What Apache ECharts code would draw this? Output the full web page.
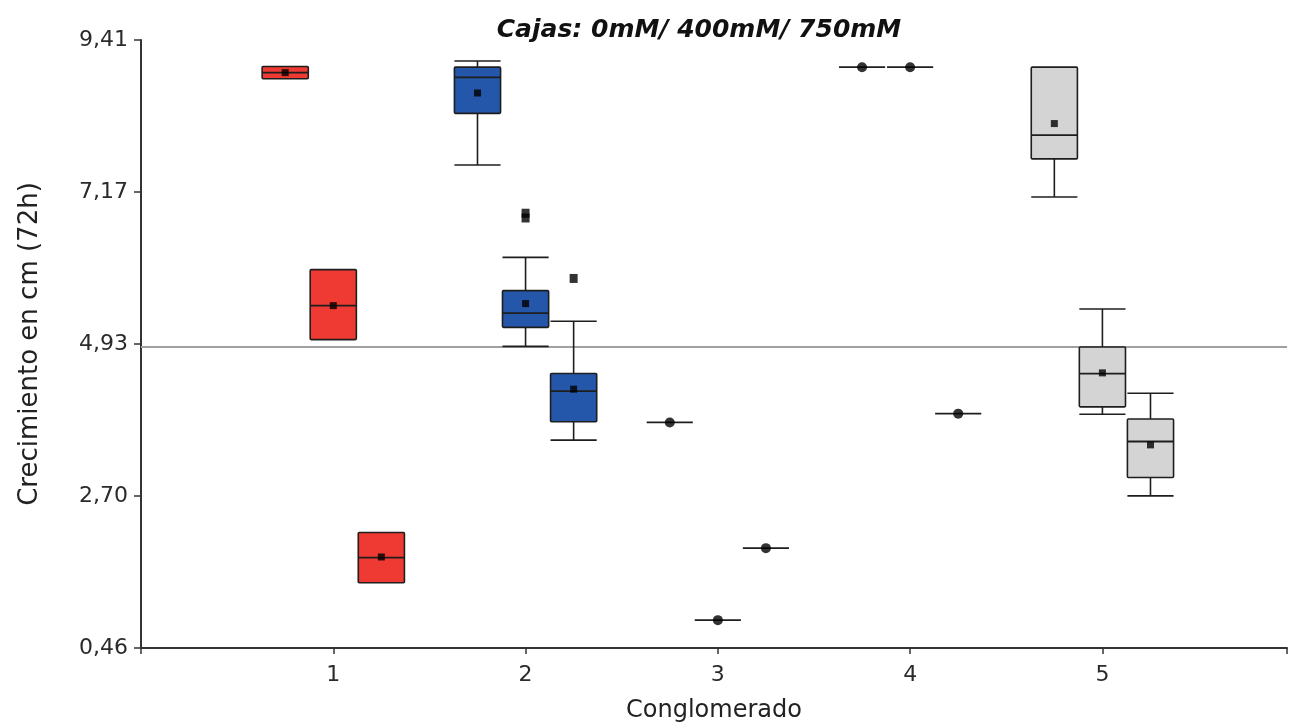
<!DOCTYPE html>
<html>
<head>
<meta charset="utf-8">
<script src="https://cdn.jsdelivr.net/npm/echarts@6/dist/echarts.min.js"></script>
<style>
html,body{margin:0;padding:0;background:#fff;}
#chart{width:1290px;height:728px;}
</style>
</head>
<body>
<div id="chart"></div>
<script>
// ---- data ----
const conglomerados = [1, 2, 3, 4, 5];
const tratamientos = ['0mM', '400mM', '750mM'];
const yTickLabels = ['0,46', '2,70', '4,93', '7,17', '9,41'];
const yMin = 0.46, yMax = 9.41, yStep = 2.2375;
const referenceLine = 4.89;

// [min, Q1, median, Q3, max] per treatment (0mM, 400mM, 750mM)
const c1Boxes = [[8.84, 8.84, 8.93, 9.02, 9.02], [5.00, 5.00, 5.50, 6.03, 6.03], [1.42, 1.42, 1.79, 2.16, 2.16]];
const c2Boxes = [[7.57, 8.33, 8.86, 9.01, 9.10], [4.90, 5.18, 5.39, 5.72, 6.21], [3.52, 3.79, 4.24, 4.50, 5.27]];
const c3Boxes = [[3.78, 3.78, 3.78, 3.78, 3.78], [0.87, 0.87, 0.87, 0.87, 0.87], [1.93, 1.93, 1.93, 1.93, 1.93]];
const c4Boxes = [[9.01, 9.01, 9.01, 9.01, 9.01], [9.01, 9.01, 9.01, 9.01, 9.01], [3.91, 3.91, 3.91, 3.91, 3.91]];
const c5Boxes = [[7.10, 7.66, 8.01, 9.01, 9.01], [3.90, 4.01, 4.50, 4.89, 5.45], [2.70, 2.97, 3.50, 3.83, 4.21]];

const c1Means = [8.93, 5.50, 1.80];
const c2Means = [8.63, 5.53, 4.27];
const c3Means = [3.78, 0.87, 1.93];
const c4Means = [9.01, 9.01, 3.91];
const c5Means = [8.18, 4.51, 3.45];

// outliers: [treatment index, value]
const c2Outliers = [[1, 6.79], [1, 6.86], [2, 5.90]];

// ---- styling ----
const offsets = [-0.25, 0, 0.25];
const BOX_W = 0.24;
const X_MAX = 5.96;
const clusterColors = ['#ee3a32', '#2457a9', '#d4d4d4', '#d4d4d4', '#d4d4d4'];
const meanSymbols = ['rect', 'rect', 'circle', 'circle', 'rect'];
const FONT = 'DejaVu Sans';
const INK = '#1e1e1e';

const allBoxes = [c1Boxes, c2Boxes, c3Boxes, c4Boxes, c5Boxes];
const allMeans = [c1Means, c2Means, c3Means, c4Means, c5Means];

function makeRender(fill) {
  return function (params, api) {
    const x = api.value(0);
    const mn = api.value(1), q1 = api.value(2), md = api.value(3), q3 = api.value(4), mx = api.value(5);
    const half = api.size([BOX_W, 0])[0] / 2;
    const cx = api.coord([x, md])[0];
    const Y = v => api.coord([x, v])[1];
    const ls = { stroke: INK, lineWidth: 1.6 };
    const ch = [];
    if (mx > q3) {
      ch.push({ type: 'line', shape: { x1: cx, y1: Y(q3), x2: cx, y2: Y(mx) }, style: ls });
      ch.push({ type: 'line', shape: { x1: cx - half, y1: Y(mx), x2: cx + half, y2: Y(mx) }, style: ls });
    }
    if (mn < q1) {
      ch.push({ type: 'line', shape: { x1: cx, y1: Y(q1), x2: cx, y2: Y(mn) }, style: ls });
      ch.push({ type: 'line', shape: { x1: cx - half, y1: Y(mn), x2: cx + half, y2: Y(mn) }, style: ls });
    }
    if (q3 > q1) {
      ch.push({ type: 'rect', shape: { x: cx - half, y: Y(q3), width: 2 * half, height: Y(q1) - Y(q3), r: 1 },
        style: { fill: fill, stroke: INK, lineWidth: 1.6 } });
    }
    ch.push({ type: 'line', shape: { x1: cx - half, y1: Y(md), x2: cx + half, y2: Y(md) }, style: { stroke: INK, lineWidth: 1.8 } });
    return { type: 'group', children: ch };
  };
}

const series = [];
allBoxes.forEach((boxes, ci) => {
  const data = boxes.map((b, ti) => [conglomerados[ci] + offsets[ti]].concat(b));
  const s = {
    type: 'custom',
    name: 'C' + conglomerados[ci],
    renderItem: makeRender(clusterColors[ci]),
    data: data,
    encode: { x: 0, y: [1, 2, 3, 4, 5] },
    z: 3,
    silent: true
  };
  if (ci === 0) {
    s.markLine = {
      silent: true, symbol: 'none', label: { show: false },
      lineStyle: { color: '#a0a0a0', width: 2, type: 'solid' },
      data: [{ yAxis: referenceLine }],
      z: 1
    };
  }
  series.push(s);
});
allMeans.forEach((means, ci) => {
  series.push({
    type: 'scatter',
    symbol: meanSymbols[ci],
    symbolSize: meanSymbols[ci] === 'circle' ? 10 : 7,
    itemStyle: { color: '#000' },
    data: means.map((m, ti) => [conglomerados[ci] + offsets[ti], m]),
    z: 5,
    silent: true
  });
});
series.push({
  type: 'scatter',
  symbol: 'rect',
  symbolSize: [8, 9],
  itemStyle: { color: '#000' },
  data: c2Outliers.map(o => [conglomerados[1] + offsets[o[0]], o[1]]),
  z: 5,
  silent: true
});

const chart = echarts.init(document.getElementById('chart'));
chart.setOption({
  animation: false,
  backgroundColor: '#fff',
  title: {
    text: 'Cajas: 0mM/ 400mM/ 750mM',
    left: 694, top: 13, textAlign: 'center',
    textStyle: { fontFamily: FONT, fontSize: 25, fontWeight: 'bold', fontStyle: 'italic', color: '#111' }
  },
  grid: { left: 141, right: 0, top: 40, bottom: 74, containLabel: false },
  xAxis: {
    type: 'value', min: 0, max: X_MAX, interval: 1,
    name: 'Conglomerado', nameLocation: 'middle', nameGap: 51,
    nameTextStyle: { fontFamily: FONT, fontSize: 24, color: '#222' },
    axisLine: { show: true, lineStyle: { color: '#333', width: 2 } },
    axisTick: { show: true, length: 6, lineStyle: { color: '#333', width: 1.5 } },
    axisLabel: {
      fontFamily: FONT, fontSize: 22, color: '#2a2a2a', margin: 16,
      formatter: v => (conglomerados.indexOf(v) >= 0 ? String(v) : '')
    },
    splitLine: { show: false }
  },
  yAxis: {
    type: 'value', min: yMin, max: yMax, interval: yStep,
    name: 'Crecimiento en cm (72h)', nameLocation: 'middle', nameGap: 98, nameRotate: 90,
    nameTextStyle: { fontFamily: FONT, fontSize: 26, color: '#222' },
    axisLine: { show: true, lineStyle: { color: '#333', width: 2 } },
    axisTick: { show: true, length: 7, lineStyle: { color: '#333', width: 1.5 } },
    axisLabel: {
      fontFamily: FONT, fontSize: 22, color: '#2a2a2a', margin: 13,
      formatter: v => yTickLabels[Math.round((v - yMin) / yStep)] || ''
    },
    splitLine: { show: false }
  },
  series: series
});
</script>
</body>
</html>
